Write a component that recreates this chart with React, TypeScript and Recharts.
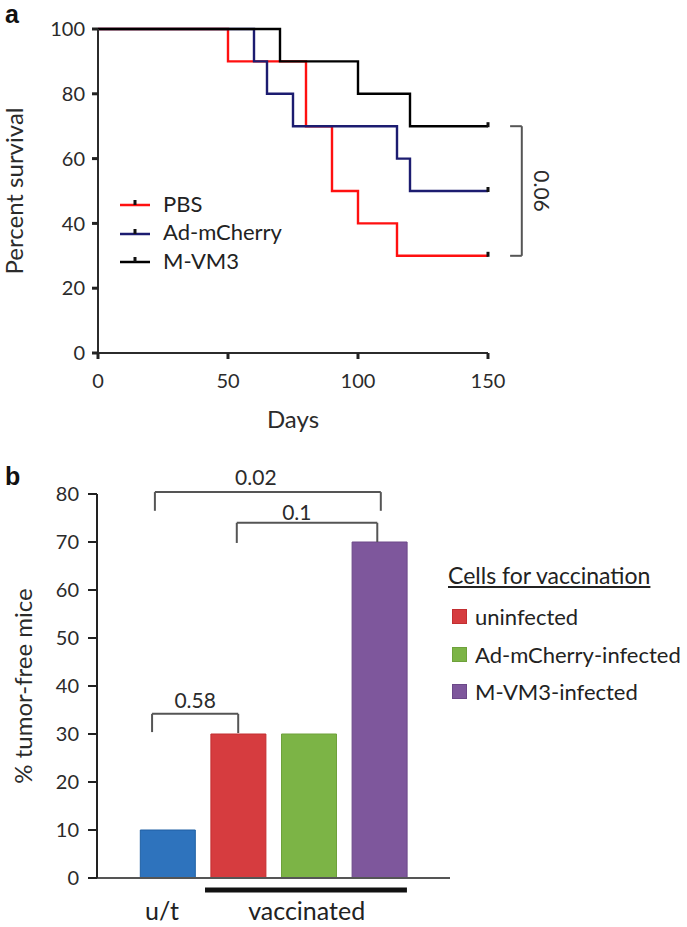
import React from 'react';
import {
  LineChart, Line, BarChart, Bar, Cell, XAxis, YAxis, Legend, ReferenceLine, ReferenceDot,
} from 'recharts';

const FONT = 'Lato, "Open Sans", sans-serif';
const INK = '#2b2b2b';

// ---- panel a: survival (day, % alive) ----
const pbsSurvival = [
  { day: 0, value: 100 }, { day: 50, value: 90 }, { day: 80, value: 70 }, { day: 90, value: 50 },
  { day: 100, value: 40 }, { day: 115, value: 30 }, { day: 150, value: 30 },
];
const adMCherrySurvival = [
  { day: 0, value: 100 }, { day: 60, value: 90 }, { day: 65, value: 80 }, { day: 75, value: 70 },
  { day: 115, value: 60 }, { day: 120, value: 50 }, { day: 150, value: 50 },
];
const mVM3Survival = [
  { day: 0, value: 100 }, { day: 70, value: 90 }, { day: 100, value: 80 }, { day: 120, value: 70 },
  { day: 150, value: 70 },
];
const survivalNames = ['PBS', 'Ad-mCherry', 'M-VM3'];
const survivalColors = ['#ff1010', '#1c1c70', '#000000'];
const survivalData = [pbsSurvival, adMCherrySurvival, mVM3Survival];
const dayTicks = [0, 50, 100, 150];
const survivalTicks = [0, 20, 40, 60, 80, 100];
const survivalPValue = { label: '0.06', low: 30, high: 70 };

// ---- panel b: tumor-free mice ----
const groupNames = ['u/t', 'uninfected', 'Ad-mCherry-infected', 'M-VM3-infected'];
const tumorFreePercent = [10, 30, 30, 70];
const barColors = ['#2e73bd', '#d63c3f', '#7cb446', '#7e579c'];
const barEdges = ['#1f5fa3', '#c22e31', '#6ea13b', '#6c4889'];
const tumorTicks = [0, 10, 20, 30, 40, 50, 60, 70, 80];
const vaccinationCells = groupNames.slice(1);
const pValues = ['0.58', '0.02', '0.1'];

// bracket placement in chart units
const bracketLayout = [
  { x1: 0.78, x2: 2.0, top: 34.2, left: 30.4, right: 30.2, labelX: 1.39, gap: 6 },
  { x1: 0.82, x2: 4.02, top: 80.4, left: 76.5, right: 76.5, labelX: 2.25, gap: 7 },
  { x1: 1.98, x2: 3.97, top: 74, left: 69.8, right: 70, labelX: 2.83, gap: 3 },
];
const groupLabels = [
  { label: 'u/t', at: 0.92 },
  { label: 'vaccinated', at: 2.97, from: 1.53, to: 4.39 },
];

const tumorData = groupNames.map((name, i) => ({ slot: i + 1, name, value: tumorFreePercent[i] }));

const SurvivalLegend = () => (
  <div style={{ fontFamily: FONT, fontSize: 22, color: '#222' }}>
    {survivalNames.map((name, i) => (
      <div key={name} style={{ display: 'flex', alignItems: 'center', height: 28.5 }}>
        <svg width={30} height={14}>
          <line x1={0} y1={9} x2={30} y2={9} stroke={survivalColors[i]} strokeWidth={2.5} />
          <rect x={13.5} y={4} width={3} height={5} fill="#111" />
        </svg>
        <span style={{ marginLeft: 13 }}>{name}</span>
      </div>
    ))}
  </div>
);

const VaccinationLegend = () => (
  <div style={{ fontFamily: FONT, fontSize: 22, color: '#222' }}>
    <div style={{ height: 28, lineHeight: '28px', fontSize: 23, textDecoration: 'underline' }}>Cells for vaccination</div>
    <div style={{ height: 9 }} />
    {vaccinationCells.map((name, i) => (
      <div key={name} style={{ display: 'flex', alignItems: 'center', height: 37.5 }}>
        <span style={{ width: 15, height: 15, marginLeft: 4, background: barColors[i + 1], border: `1px solid ${barEdges[i + 1]}`, boxSizing: 'border-box' }} />
        <span style={{ marginLeft: 8 }}>{name}</span>
      </div>
    ))}
  </div>
);

const panelLetter = (top: number): React.CSSProperties => ({
  position: 'absolute', left: 5, top, fontFamily: '"Liberation Sans", Arial, sans-serif',
  fontWeight: 'bold', fontSize: 25, lineHeight: '25px', color: '#111',
});

export default function App() {
  const tickStyle = { fill: INK, fontSize: 20, fontFamily: FONT };
  const titleStyle = { fill: INK, fontSize: 24, fontFamily: FONT };
  const bracketStroke = '#555';

  return (
    <div style={{ position: 'absolute', left: 0, top: 0, width: 687, height: 927, background: '#fff' }}>
      <div style={{ position: 'absolute', left: 0, top: 0 }}>
        <LineChart width={687} height={440} margin={{ top: 29, right: 199, bottom: 0, left: 0 }}>
          <XAxis
            type="number" dataKey="day" domain={[0, 150]} ticks={dayTicks} height={87}
            tickSize={6} tickMargin={15} tick={tickStyle}
            axisLine={{ stroke: INK, strokeWidth: 2 }} tickLine={{ stroke: '#222', strokeWidth: 3 }}
            label={{ value: 'Days', position: 'insideBottom', offset: 12, ...titleStyle }}
          />
          <YAxis
            type="number" domain={[0, 100]} ticks={survivalTicks} width={98}
            tickSize={6} tickMargin={7} tick={tickStyle}
            axisLine={{ stroke: INK, strokeWidth: 2 }} tickLine={{ stroke: '#222', strokeWidth: 3 }}
            label={{ value: 'Percent survival', angle: -90, position: 'insideLeft', offset: 14, style: { textAnchor: 'middle' }, ...titleStyle }}
          />
          {survivalData.map((data, i) => (
            <Line
              key={survivalNames[i]} data={data} dataKey="value" name={survivalNames[i]}
              type="stepAfter" stroke={survivalColors[i]} strokeWidth={2.4}
              activeDot={false} isAnimationActive={false}
              dot={(p: any) => (p.index === data.length - 1
                ? <rect key={`c-${i}`} x={p.cx - 1.5} y={p.cy - 4} width={3} height={5} fill="#111" />
                : <g key={`n-${i}-${p.index}`} />)}
            />
          ))}
          <ReferenceLine segment={[{ x: 163, y: survivalPValue.low }, { x: 163, y: survivalPValue.high }]} ifOverflow="visible" stroke={bracketStroke} strokeWidth={2} />
          <ReferenceLine segment={[{ x: 158.5, y: survivalPValue.high }, { x: 163, y: survivalPValue.high }]} ifOverflow="visible" stroke={bracketStroke} strokeWidth={2} />
          <ReferenceLine segment={[{ x: 158.5, y: survivalPValue.low }, { x: 163, y: survivalPValue.low }]} ifOverflow="visible" stroke={bracketStroke} strokeWidth={2} />
          <ReferenceDot
            x={171} y={(survivalPValue.low + survivalPValue.high) / 2} r={0} ifOverflow="visible"
            shape={(p: any) => (
              <text x={p.cx} y={p.cy} transform={`rotate(90 ${p.cx} ${p.cy})`} textAnchor="middle"
                dominantBaseline="central" fill={INK} fontSize={21} fontFamily={FONT}>
                {survivalPValue.label}
              </text>
            )}
          />
          <Legend layout="vertical" align="center" verticalAlign="middle" content={SurvivalLegend}
            wrapperStyle={{ left: 120, top: 189, width: 220 }} />
        </LineChart>
      </div>

      <div style={{ position: 'absolute', left: 0, top: 440 }}>
        <BarChart width={687} height={487} data={tumorData} margin={{ top: 54, right: 237, bottom: 0, left: 0 }}>
          <XAxis
            type="number" dataKey="slot" domain={[0, 5]} ticks={groupLabels.map(g => g.at)} height={49}
            tickLine={false} tickSize={0} tickMargin={24}
            tickFormatter={(v: number) => groupLabels.find(g => g.at === v)?.label ?? ''}
            tick={{ fill: '#222', fontSize: 25, fontFamily: FONT }}
            axisLine={{ stroke: '#555', strokeWidth: 2 }}
          />
          <YAxis
            type="number" domain={[0, 80]} ticks={tumorTicks} width={97}
            tickSize={9} tickMargin={9} tick={tickStyle}
            axisLine={{ stroke: '#222', strokeWidth: 2 }} tickLine={{ stroke: '#222', strokeWidth: 2 }}
            label={{ value: '% tumor-free mice', angle: -90, position: 'insideLeft', offset: 23, style: { textAnchor: 'middle' }, ...titleStyle }}
          />
          <Bar dataKey="value" barSize={55} isAnimationActive={false}>
            {tumorData.map((d, i) => (
              <Cell key={d.name} fill={barColors[i]} stroke={barEdges[i]} strokeWidth={1} />
            ))}
          </Bar>
          {bracketLayout.map((b, i) => (
            <React.Fragment key={pValues[i]}>
              <ReferenceLine segment={[{ x: b.x1, y: b.top }, { x: b.x2, y: b.top }]} ifOverflow="visible" stroke={bracketStroke} strokeWidth={2} />
              <ReferenceLine segment={[{ x: b.x1, y: b.left }, { x: b.x1, y: b.top }]} ifOverflow="visible" stroke={bracketStroke} strokeWidth={2} />
              <ReferenceLine segment={[{ x: b.x2, y: b.right }, { x: b.x2, y: b.top }]} ifOverflow="visible" stroke={bracketStroke} strokeWidth={2} />
              <ReferenceDot
                x={b.labelX} y={b.top} r={0} ifOverflow="visible"
                shape={(p: any) => (
                  <text x={p.cx} y={p.cy - b.gap} textAnchor="middle" fill={INK} fontSize={21} fontFamily={FONT}>
                    {pValues[i]}
                  </text>
                )}
              />
            </React.Fragment>
          ))}
          <ReferenceLine segment={[{ x: groupLabels[1].from, y: -2.5 }, { x: groupLabels[1].to, y: -2.5 }]}
            ifOverflow="visible" stroke="#111" strokeWidth={5} />
          <Legend layout="vertical" align="center" verticalAlign="middle" content={VaccinationLegend}
            wrapperStyle={{ left: 448, top: 121, width: 239 }} />
        </BarChart>
      </div>

      <div style={panelLetter(2)}>a</div>
      <div style={panelLetter(464)}>b</div>
    </div>
  );
}
